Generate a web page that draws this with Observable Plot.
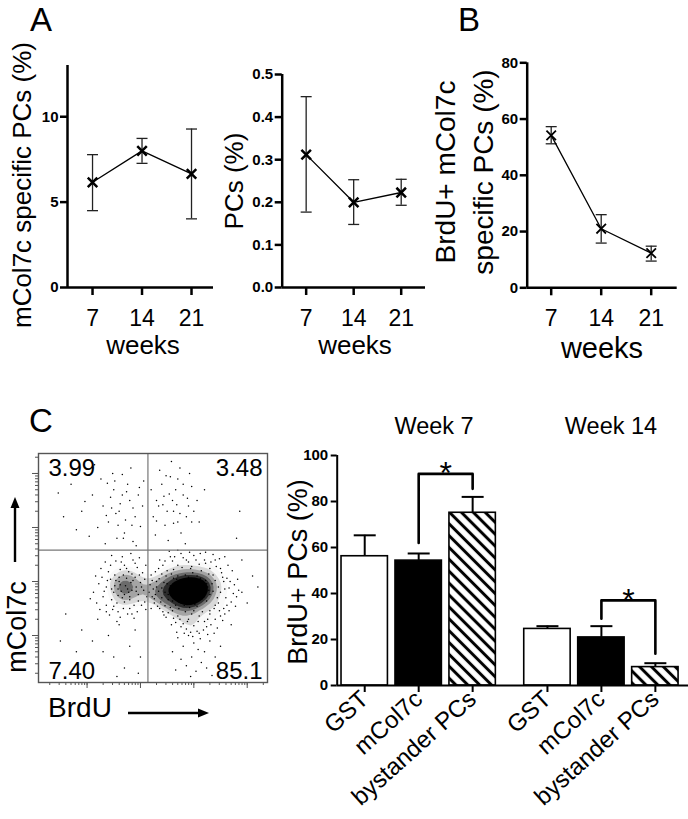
<!DOCTYPE html>
<html><head><meta charset="utf-8">
<script src="https://cdn.jsdelivr.net/npm/d3@7"></script>
<script src="https://cdn.jsdelivr.net/npm/@observablehq/plot@0.6"></script>
<style>
html,body{margin:0;padding:0;background:#fff;}
#root{position:relative;width:688px;height:819px;overflow:hidden;font-family:"Liberation Sans",Arial,Helvetica,sans-serif;color:#000;background:#fff;}
#root svg{position:absolute;overflow:visible;}
.lbl{position:absolute;line-height:1;white-space:nowrap;}
</style></head><body><div id="root"></div>
<script>
// ---------------- DATA ----------------
const weeks = [7, 14, 21];
// A left: mCol7c specific PCs (%)
const col7cMean = [6.16, 8.0, 6.65];
const col7cLow  = [4.5, 7.27, 4.02];
const col7cHigh = [7.78, 8.73, 9.28];
const ticksCol7c = [0, 5, 10];
// A right: PCs (%)
const pcsMean = [0.312, 0.200, 0.223];
const pcsLow  = [0.177, 0.148, 0.193];
const pcsHigh = [0.448, 0.253, 0.254];
const ticksPcs = [0, 0.1, 0.2, 0.3, 0.4, 0.5];
// B: BrdU+ mCol7c specific PCs (%)
const brduMean = [54.2, 21.0, 12.3];
const brduLow  = [51.2, 15.9, 9.5];
const brduHigh = [57.3, 26.0, 14.8];
const ticksBrdu = [0, 20, 40, 60, 80];
// C bars: BrdU+ PCs (%)
const barGroups = ["Week 7", "Week 14"];
const barCategories = ["GST", "mCol7c", "bystander PCs"];
const barMeanWeek7 = [56.2, 54.3, 75.1];
const barErrWeek7 = [9.1, 3.1, 6.9];
const barMeanWeek14 = [24.6, 20.9, 8.0];
const barErrWeek14 = [1.2, 4.9, 1.7];
const barTicks = [0, 20, 40, 60, 80, 100];
// significance brackets [left leg bottom, bracket top, right leg bottom] (mCol7c vs bystander)
const sigWeek7 = [62.0, 92.0, 85.5];
const sigWeek14 = [29.0, 37.0, 13.8];
// C flow plot: quadrant percentages (UL, UR, LL, LR) and gates (log10 units)
const quadrantPct = ["3.99", "3.48", "7.40", "85.1"];
const flowGateBrdU = 3.14, flowGateCol7c = 3.58;
// events [BrdU, mCol7c] in log10 units
const flowCore = [[3.94,2.83],[3.80,2.90],[4.05,2.75],[3.70,2.78],[4.12,2.95],[3.88,2.62],[4.00,3.02],[3.76,2.98],[4.20,2.80],[3.66,2.88],
[3.92,2.70],[4.08,2.88],[3.84,2.76],[3.98,2.92],[4.16,2.68],[3.72,2.66],[4.26,2.90],[3.62,2.96],[3.90,3.08],[4.02,2.58],
[3.78,2.84],[4.10,2.82],[3.86,2.96],[3.96,2.66],[4.22,3.02],[3.68,3.04],[4.30,2.76],[3.58,2.80],[3.82,2.56],[4.06,3.10],
[3.74,2.72],[4.14,2.74],[3.88,2.86],[4.00,2.78],[3.94,2.98],[4.18,2.86],[3.64,2.72],[4.34,2.96],[3.56,2.92],[3.84,3.12],
[4.04,2.66],[3.76,2.60],[4.24,2.64],[3.92,2.52],[4.12,3.06],[3.70,3.10],[3.98,3.16],[4.28,2.84],[3.60,2.64],[4.08,2.96],
[3.86,2.68],[3.96,2.88],[4.02,2.86],[3.80,2.82],[4.16,2.92],[3.66,2.84],[4.20,2.72],[3.90,2.76],[3.74,2.92],[4.10,2.70],
[3.54,2.86],[4.36,2.82],[3.82,3.04],[4.06,2.54],[3.94,2.60],[3.72,2.50],[4.18,3.00],[3.62,3.06],[4.24,2.96],[3.88,3.00]];
const flowHalo = [[3.30,2.90],[3.40,2.70],[3.35,3.05],[3.46,2.55],[3.50,3.20],[3.28,2.76],[3.44,2.98],[3.38,2.62],[3.52,2.42],[3.24,2.86],
[4.50,2.80],[4.56,3.00],[4.46,2.60],[4.60,2.70],[4.52,3.16],[4.66,2.88],[4.42,3.28],[4.70,2.62],[4.48,2.46],[4.62,3.06],
[3.70,3.30],[3.90,3.36],[4.10,3.32],[4.30,3.24],[3.80,3.44],[4.00,3.48],[4.20,3.40],[3.60,3.38],[4.40,3.40],[3.96,3.28],
[3.70,2.36],[3.90,2.30],[4.10,2.36],[4.30,2.40],[3.80,2.22],[4.00,2.18],[4.20,2.26],[3.60,2.46],[4.40,2.30],[3.96,2.40],
[3.20,3.12],[3.26,2.60],[3.34,3.24],[3.48,2.34],[4.76,2.94],[4.80,2.72],[4.72,3.20],[4.58,2.40],[3.56,3.46],[4.36,3.50],
[3.18,2.94],[3.22,2.72],[3.36,2.50],[3.42,3.30],[4.64,3.30],[4.84,2.84],[4.54,2.28],[3.66,2.24],[4.24,2.16],[3.86,2.12],
[4.12,3.52],[3.76,3.52],[3.52,2.66],[3.58,3.14],[4.44,2.14],[3.46,2.80],[4.40,2.56],[4.36,3.12],[3.50,2.96],[3.42,2.44]];
const flowHaloOuter = [[3.34,2.82],[3.48,3.10],[3.56,2.52],[3.62,3.22],[3.78,3.26],[3.94,3.24],[4.14,3.20],[4.28,3.14],[4.40,3.02],[4.46,2.90],
[4.44,2.70],[4.38,2.50],[4.30,2.46],[4.16,2.44],[4.00,2.46],[3.84,2.44],[3.66,2.56],[3.52,2.76],[3.40,2.88],[3.30,3.00],
[4.58,2.86],[4.68,3.00],[4.54,3.08],[4.62,2.56],[4.74,2.78],[4.50,2.36],[4.26,2.30],[4.08,2.26],[3.88,2.26],[3.74,2.30],
[3.62,2.32],[3.44,2.38],[3.32,2.54],[3.26,2.68],[3.22,3.02],[3.28,3.18],[3.40,3.14],[3.46,3.38],[3.64,3.46],[3.86,3.40],
[4.04,3.40],[4.22,3.34],[4.32,3.36],[4.50,3.24],[4.56,2.50],[4.66,2.46],[4.06,2.08],[3.94,2.06],[4.18,2.10],[3.76,2.16],
[4.32,2.20],[3.58,2.20],[4.48,3.42],[3.70,3.58],[3.92,3.54],[4.22,3.54],[3.36,3.40],[3.16,2.80],[3.20,2.50],[4.82,3.04],
[4.78,2.54],[4.90,2.80],[3.98,1.98],[4.12,1.94],[3.82,2.04],[4.26,2.02],[3.68,2.06],[4.38,2.04],[3.54,3.56],[4.58,3.46]];
const flowLeft = [[2.72,2.92],[2.60,3.00],[2.84,2.84],[2.50,2.80],[2.90,3.08],[2.66,2.70],[2.78,3.18],[2.44,3.04],[2.96,2.76],[2.56,2.60],
[2.70,3.30],[2.88,2.56],[2.36,2.90],[3.00,2.98],[2.62,3.22],[2.80,2.66],[2.48,2.48],[2.94,3.26],[2.40,3.18],[3.06,2.84],
[2.68,2.50],[2.54,3.38],[2.86,3.40],[2.30,2.72],[3.08,2.62],[2.76,2.40],[2.58,2.86],[2.98,3.44],[2.34,3.36],[2.82,2.98],
[2.46,2.66],[2.64,2.82],[2.74,3.06],[2.92,2.90],[2.52,3.12],[2.22,2.96],[2.18,2.60],[3.04,3.16],[2.66,3.46],[2.42,2.38],
[2.88,2.32],[2.26,3.24],[3.10,2.48],[2.56,2.26],[2.78,2.80],
[2.62,2.94],[2.76,2.86],[2.52,2.92],[2.86,3.02],[2.68,3.12],[2.58,2.74],[2.80,2.72],[2.46,2.86],[2.92,2.82],[2.70,2.62],
[2.60,3.08],[2.84,3.14],[2.38,3.02],[3.02,2.90],[2.74,3.24],[2.50,2.54],[2.96,2.64],[2.64,3.36],[2.32,2.82],[3.08,3.04],
[2.90,3.34],[2.44,3.30],[2.28,3.08],[2.58,2.44],[2.80,2.50],[3.02,2.56],[2.70,2.76],[2.54,3.02],[2.98,3.12],[2.36,2.56],
[2.12,2.80],[2.16,3.10],[2.06,2.68],[2.24,2.48],[3.12,2.72],[3.10,3.30],[2.82,3.52],[2.46,3.48],[2.62,2.34],[2.94,2.44]];
const flowUpperLeft = [[2.60,4.30],[2.40,4.10],[2.80,4.50],[2.70,3.90],[2.50,4.70],[2.90,4.20],[2.30,4.40],[2.76,4.80],[2.56,3.80],[2.96,4.60],
[2.20,4.00],[2.66,4.98],[2.44,4.56],[2.86,3.74],[2.10,4.60],[3.00,4.02],[2.34,3.70],[2.62,4.44],[1.90,4.30],[2.82,5.10],
[2.48,5.00],[1.70,4.80],[2.04,3.84],[3.06,4.86],[1.56,4.20],[2.72,4.14],[2.26,4.90],[1.80,3.96],[2.92,3.66],[2.14,5.16],
[1.46,4.64],[2.54,4.26],[2.38,4.82],[3.04,4.40],[1.96,4.48],
[2.66,4.60],[2.46,4.36],[2.86,4.36],[2.58,4.04],[2.74,4.66],[2.36,4.22],[2.98,4.74],[2.52,4.86],[2.84,4.04],[2.68,3.80]];
const flowUpperRight = [[3.60,4.50],[3.50,4.30],[3.80,4.60],[3.40,4.80],[3.70,4.10],[3.90,4.40],[3.30,4.50],[3.56,4.94],[3.76,3.90],[3.46,4.04],
[3.96,4.76],[3.24,4.20],[3.66,4.70],[3.86,4.20],[3.36,5.06],[4.06,4.50],[3.52,3.76],[3.74,5.10],[3.20,4.70],[4.10,4.10],
[3.62,4.30],[3.44,4.58],[3.92,5.00],[3.28,3.86],[4.20,4.70],[3.84,3.70],[3.58,5.22],[4.00,4.30],[3.34,4.40],[3.70,4.90],
[3.54,4.62],[3.68,4.42],[3.42,4.42],[3.80,4.80],[3.62,4.08],[3.48,4.96],[3.88,4.54],[3.30,4.12],[3.74,4.26],[3.96,4.10]];
const flowTail = [[3.90,2.00],[4.00,1.86],[4.10,2.04],[3.80,1.80],[4.20,1.70],[3.96,1.60],[4.14,1.50],[3.70,1.96],[4.30,1.90],[3.86,1.44],
[4.04,1.34],[4.24,1.40],[3.60,1.70],[4.40,1.60],[3.76,1.56],[4.50,1.80],[4.08,1.74],[3.94,1.24],[4.34,1.26],[3.66,1.36]];
const flowLowerLeft = [[2.60,2.20],[2.40,2.00],[2.80,1.80],[2.20,2.30],[2.90,2.10],[1.90,2.10],[2.50,1.60],[2.70,1.40],[2.30,1.70],[3.00,1.60],
[1.60,2.40],[2.10,1.90],[2.96,1.30],[1.80,1.70],[2.56,1.24],[2.84,2.40],[1.50,1.90],[2.36,2.44]];
const flowRight = [[4.90,3.40],[5.00,2.60],[4.80,3.80],[5.10,3.10],[4.70,2.20],[5.20,2.90],[4.86,4.30]];

// ---------------- HELPERS ----------------
const root = document.getElementById("root");
const FONT = "'Liberation Sans', Arial, Helvetica, sans-serif";
function place(svg, left, top) {
  svg.style.position = "absolute"; svg.style.left = left + "px"; svg.style.top = top + "px";
  svg.style.overflow = "visible"; svg.style.background = "transparent";
  svg.querySelectorAll('[aria-label="y-axis tick label"]').forEach(g => g.setAttribute("font-weight", "bold"));
  root.appendChild(svg);
  return svg;
}
function label(text, cx, cy, size, rotate = 0, weight = "normal") {
  const d = document.createElement("div");
  d.className = "lbl"; d.textContent = text;
  Object.assign(d.style, {left: cx + "px", top: cy + "px", fontSize: size + "px", fontWeight: weight,
    transform: `translate(-50%,-50%) rotate(${rotate}deg)`});
  root.appendChild(d);
}
const capSymbol = { draw(ctx, size) { const r = Math.sqrt(size / Math.PI); ctx.moveTo(-r, 0); ctx.lineTo(r, 0); } };
const rows = (mean, lo, hi) => weeks.map((w, i) => ({week: w, mean: mean[i], lo: lo[i], hi: hi[i]}));

function lineChart({data, yDomain, yTicks, yFormat, xDomain, width, height, margins, markerWidth}) {
  return Plot.plot({
    width, height, ...margins,
    style: {fontFamily: FONT, color: "black", background: "transparent", overflow: "visible"},
    x: {domain: xDomain}, y: {domain: yDomain},
    marks: [
      Plot.axisY({ticks: yTicks, tickFormat: yFormat, tickSize: 7, tickPadding: 2, fontSize: 15, fontWeight: "bold", strokeWidth: 2.5, label: null}),
      Plot.axisX({ticks: weeks, tickSize: 8, tickPadding: 14, fontSize: 23, strokeWidth: 2.5, label: null}),
      Plot.ruleX([xDomain[0]], {strokeWidth: 2.5}),
      Plot.ruleY([yDomain[0]], {strokeWidth: 2.5}),
      Plot.ruleX(data, {x: "week", y1: "lo", y2: "hi", stroke: "#222", strokeWidth: 1.3}),
      Plot.dot(data, {x: "week", y: "lo", symbol: capSymbol, r: 5.5, fill: "none", stroke: "#222", strokeWidth: 1.3}),
      Plot.dot(data, {x: "week", y: "hi", symbol: capSymbol, r: 5.5, fill: "none", stroke: "#222", strokeWidth: 1.3}),
      Plot.line(data, {x: "week", y: "mean", stroke: "black", strokeWidth: 1.3}),
      Plot.dot(data, {x: "week", y: "mean", symbol: "times", r: 4.4, stroke: "black", strokeWidth: markerWidth})
    ]
  });
}

// ---------------- PANEL A ----------------
place(lineChart({data: rows(col7cMean, col7cLow, col7cHigh), yDomain: [0, 13], yTicks: ticksCol7c, yFormat: d3.format("d"),
  xDomain: [3.46, 24.11], width: 240, height: 300,
  margins: {marginLeft: 67, marginTop: 25, marginRight: 27, marginBottom: 53}, markerWidth: 2.5}), 0, 40);
place(lineChart({data: rows(pcsMean, pcsLow, pcsHigh), yDomain: [0, 0.5], yTicks: ticksPcs, yFormat: d3.format(".1f"),
  xDomain: [3.47, 24.58], width: 220, height: 300,
  margins: {marginLeft: 41.7, marginTop: 34, marginRight: 35, marginBottom: 53}, markerWidth: 2.5}), 240, 40);
// ---------------- PANEL B ----------------
place(lineChart({data: rows(brduMean, brduLow, brduHigh), yDomain: [0, 80], yTicks: ticksBrdu, yFormat: d3.format("d"),
  xDomain: [3.64, 24.64], width: 228, height: 300,
  margins: {marginLeft: 66.7, marginTop: 22.3, marginRight: 11.3, marginBottom: 52.7}, markerWidth: 1.8}), 460, 40);

// ---------------- PANEL C: flow plot ----------------
const flowEvents = [...flowCore, ...flowHalo, ...flowHaloOuter, ...flowLeft, ...flowUpperLeft, ...flowUpperRight, ...flowTail, ...flowLowerLeft, ...flowRight]
  .map(([b, c]) => ({brdu: b, col7c: c}));
const xFlowDom = [1.09, 5.38], yFlowDom = [1.13, 5.37];
const logMinor = (dom) => d3.range(0, 7).flatMap(n => d3.range(1, 10).map(m => n + Math.log10(m))).filter(v => v > dom[0] && v < dom[1]);
const logMajor = (dom) => d3.range(0, 7).filter(v => v > dom[0] && v < dom[1]);
const flowMarks = [
  Plot.axisX({ticks: logMinor(xFlowDom), tickSize: 3, tickFormat: () => "", stroke: "#555", label: null}),
  Plot.axisX({ticks: logMajor(xFlowDom), tickSize: 6, tickFormat: () => "", stroke: "#555", label: null}),
  Plot.axisY({ticks: logMinor(yFlowDom), tickSize: 3, tickFormat: () => "", stroke: "#555", label: null}),
  Plot.axisY({ticks: logMajor(yFlowDom), tickSize: 6, tickFormat: () => "", stroke: "#555", label: null})
];
if (typeof Plot.density === "function") {
  flowMarks.push(Plot.density(flowEvents, {x: "brdu", y: "col7c", bandwidth: 7, thresholds: 16, fill: "density", stroke: "none"}));
}
flowMarks.push(
  Plot.dot(flowEvents, {x: "brdu", y: "col7c", r: 0.75, fill: "black", stroke: "none"}),
  Plot.ruleX([flowGateBrdU], {stroke: "#777", strokeWidth: 1.2}),
  Plot.ruleY([flowGateCol7c], {stroke: "#777", strokeWidth: 1.2}),
  Plot.frame({stroke: "#555", strokeWidth: 1.4}),
  Plot.text([quadrantPct[0]], {text: d => d, frameAnchor: "top-left", textAnchor: "start", lineAnchor: "top", dx: 10, dy: 5, fontSize: 24, fill: "black"}),
  Plot.text([quadrantPct[1]], {text: d => d, frameAnchor: "top-right", textAnchor: "end", lineAnchor: "top", dx: -5, dy: 5, fontSize: 24, fill: "black"}),
  Plot.text([quadrantPct[2]], {text: d => d, frameAnchor: "bottom-left", textAnchor: "start", lineAnchor: "bottom", dx: 10, dy: -4, fontSize: 24, fill: "black"}),
  Plot.text([quadrantPct[3]], {text: d => d, frameAnchor: "bottom-right", textAnchor: "end", lineAnchor: "bottom", dx: -5, dy: -4, fontSize: 24, fill: "black"})
);
place(Plot.plot({
  width: 280, height: 260, marginLeft: 38, marginTop: 13, marginRight: 13, marginBottom: 18,
  style: {fontFamily: FONT, color: "black", background: "transparent", overflow: "visible"},
  x: {domain: xFlowDom}, y: {domain: yFlowDom},
  color: {type: "linear", interpolate: t => d3.interpolateGreys(Math.max(0, Math.min(1, (t - 0.45) / 0.33)))},
  marks: flowMarks
}), 0, 440);

// ---------------- PANEL C: bar chart ----------------
const groupStep = 3.386; // layout spacing between the two week groups, in bar slots
const bars = [];
barGroups.forEach((g, gi) => {
  const means = gi === 0 ? barMeanWeek7 : barMeanWeek14;
  const errs = gi === 0 ? barErrWeek7 : barErrWeek14;
  barCategories.forEach((c, ci) => bars.push({group: g, cat: c, pos: gi * groupStep + ci, mean: means[ci], hi: means[ci] + errs[ci]}));
});
const posLabel = new Map(bars.map(b => [b.pos, b.cat]));
const bracketRows = [];
[sigWeek7, sigWeek14].forEach((s, gi) => {
  const a = gi * groupStep + 1, b = gi * groupStep + 2;
  [[a, s[0]], [a, s[1]], [b, s[1]], [b, s[2]]].forEach(([x, y]) => bracketRows.push({g: gi, x, y}));
});
const stars = [sigWeek7, sigWeek14].map((s, gi) => ({x: gi * groupStep + 1.5, y: s[1]}));
const half = 0.43;
const barSvg = Plot.plot({
  width: 428, height: 420, marginLeft: 76.7, marginTop: 55, marginRight: 0, marginBottom: 135,
  style: {fontFamily: FONT, color: "black", background: "transparent", overflow: "visible"},
  x: {domain: [-0.51, 6.0]}, y: {domain: [0, 100]},
  marks: [
    Plot.axisY({ticks: barTicks, tickSize: 6, tickPadding: 3, fontSize: 15, fontWeight: "bold", strokeWidth: 2, label: null}),
    Plot.axisX({ticks: bars.map(b => b.pos), tickFormat: d => posLabel.get(d), tickSize: 7, tickPadding: 3, tickRotate: -42, fontSize: 24, strokeWidth: 2, label: null}),
    Plot.ruleX(bars, {x: "pos", y1: "mean", y2: "hi", stroke: "black", strokeWidth: 2}),
    Plot.dot(bars, {x: "pos", y: "hi", symbol: capSymbol, r: 11, fill: "none", stroke: "black", strokeWidth: 2}),
    Plot.rectY(bars.filter(b => b.cat === "GST"), {x1: d => d.pos - half, x2: d => d.pos + half, y: "mean", fill: "white", stroke: "black", strokeWidth: 1.6}),
    Plot.rectY(bars.filter(b => b.cat === "mCol7c"), {x1: d => d.pos - half, x2: d => d.pos + half, y: "mean", fill: "black", stroke: "black", strokeWidth: 1.6}),
    Plot.rectY(bars.filter(b => b.cat === "bystander PCs"), {x1: d => d.pos - half, x2: d => d.pos + half, y: "mean", fill: "url(#hatch)", stroke: "black", strokeWidth: 1.6}),
    Plot.ruleX([-0.51], {strokeWidth: 2}),
    Plot.ruleY([0], {strokeWidth: 2}),
    Plot.line(bracketRows, {x: "x", y: "y", z: "g", stroke: "black", strokeWidth: 2.6}),
    Plot.text(stars, {x: "x", y: "y", text: () => "*", fontSize: 32, lineAnchor: "middle", fill: "black"})
  ]
});
const defs = d3.select(barSvg).insert("defs", ":first-child");
const pat = defs.append("pattern").attr("id", "hatch").attr("patternUnits", "userSpaceOnUse")
  .attr("width", 8.4).attr("height", 8.4).attr("patternTransform", "rotate(-45)");
pat.append("rect").attr("width", 8.4).attr("height", 8.4).attr("fill", "white");
pat.append("line").attr("x1", 4.2).attr("y1", -1).attr("x2", 4.2).attr("y2", 9.4).attr("stroke", "black").attr("stroke-width", 3);
place(barSvg, 260, 400);

// ---------------- TEXT LABELS ----------------
label("A", 41, 18.5, 33);
label("B", 469, 18.5, 33);
label("C", 41, 419.5, 33);
label("mCol7c specific PCs (%)", 22, 185, 26, -90);
label("PCs (%)", 234, 181, 26, -90);
label("BrdU+ mCol7c", 446, 172, 28, -90);
label("specific PCs (%)", 484, 172, 28, -90);
label("weeks", 143, 345, 26);
label("weeks", 355, 345, 26);
label("weeks", 602, 348, 29);
label("Week 7", 434, 427, 23.5);
label("Week 14", 611, 427, 23.5);
label("BrdU+ PCs (%)", 298, 572, 27, -90);
label("mCol7c", 17, 627, 27, -90);
label("BrdU", 80, 708, 28);
// axis arrows of the flow plot
const ov = d3.create("svg").attr("width", 688).attr("height", 819).style("left", "0px").style("top", "0px").style("pointer-events", "none");
ov.append("path").attr("d", "M15,562V506").attr("stroke", "black").attr("stroke-width", 2.4);
ov.append("path").attr("d", "M15,497L10.5,508H19.5Z").attr("fill", "black");
ov.append("path").attr("d", "M128,713H200").attr("stroke", "black").attr("stroke-width", 2.4);
ov.append("path").attr("d", "M209,713L198,708.5V717.5Z").attr("fill", "black");
root.appendChild(ov.node());
</script></body></html>
